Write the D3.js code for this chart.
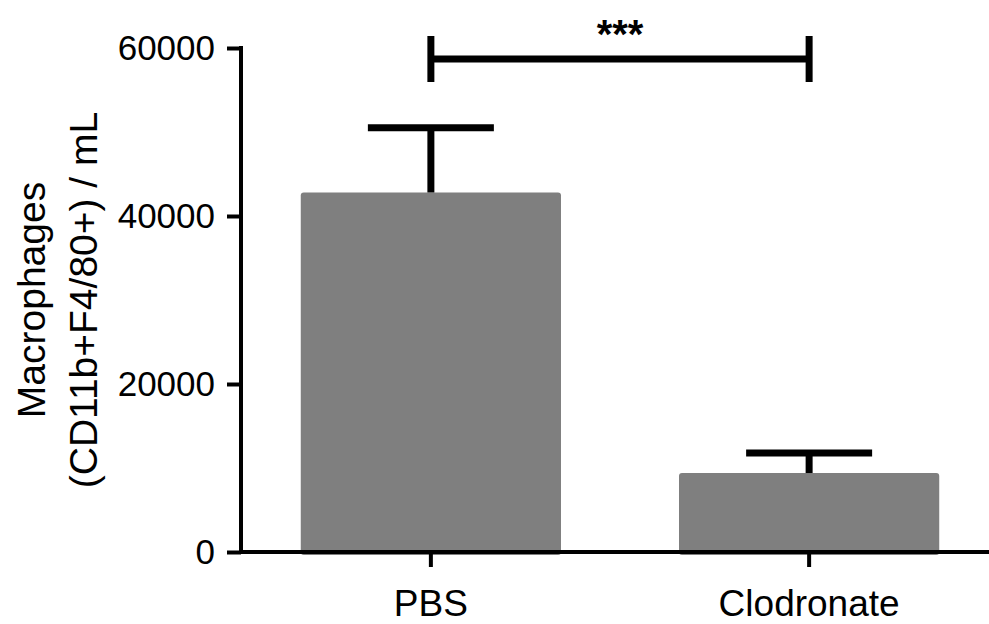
<!DOCTYPE html>
<html lang="en">
<head>
    <meta charset="utf-8">
    <script src="https://d3js.org/d3.v7.min.js"></script>
    <style>
        body { margin: 0; background: #fff; }
        text { font-family: Arial, "Liberation Sans", Helvetica, sans-serif; }
    </style>
</head>
<body>
    <svg id="chart"></svg>
    <script>
        // values
        const groups = ["PBS", "Clodronate"];
        const means = [42800, 9400];
        const sems = [7700, 2400];
        const yTicks = [0, 20000, 40000, 60000];
        const sigLabel = "***";
        const yTitle = ["Macrophages", "(CD11b+F4/80+) / mL"];

        const W = 989, H = 624;
        const svg = d3.select("#chart").attr("width", W).attr("height", H);

        const y = d3.scaleLinear().domain([0, 60000]).range([552, 48]);
        const x = d3.scaleBand()
            .domain(groups)
            .range([241, 999])
            .paddingInner(0.312)
            .paddingOuter(0.158);

        const data = groups.map((g, i) => ({ g: g, m: means[i], s: sems[i] }));

        // bars
        svg.selectAll(".bar")
            .data(data)
            .enter().append("rect")
            .attr("class", "bar")
            .attr("x", d => x(d.g))
            .attr("width", x.bandwidth())
            .attr("y", d => y(d.m))
            .attr("height", d => y(0) - y(d.m) + 3)
            .attr("rx", 3)
            .attr("fill", "#7f7f7f");

        // error bars (upper only)
        const cx = d => x(d.g) + x.bandwidth() / 2;
        const err = svg.append("g").attr("stroke", "#000").attr("stroke-width", 7);
        err.selectAll(".ev").data(data).enter().append("line")
            .attr("x1", cx).attr("x2", cx)
            .attr("y1", d => y(d.m)).attr("y2", d => y(d.m + d.s));
        err.selectAll(".ec").data(data).enter().append("line")
            .attr("x1", d => cx(d) - 63).attr("x2", d => cx(d) + 63)
            .attr("y1", d => y(d.m + d.s)).attr("y2", d => y(d.m + d.s));

        // y axis
        const yAxis = svg.append("g")
            .attr("transform", "translate(241,0)")
            .call(d3.axisLeft(y).tickValues(yTicks).tickSize(14).tickSizeOuter(0).tickPadding(12).tickFormat(d3.format("d")));
        yAxis.select(".domain").attr("stroke-width", 4).attr("d", "M0," + (y(0) + 2) + "V" + (y(60000) - 2));
        yAxis.selectAll(".tick line").attr("stroke-width", 4);
        yAxis.selectAll(".tick text").attr("font-size", 35).attr("fill", "#000")
            .style("font-family", "Arial, 'Liberation Sans', sans-serif");

        // x axis
        const xAxis = svg.append("g")
            .attr("transform", "translate(0," + y(0) + ")")
            .call(d3.axisBottom(x).tickSize(15).tickSizeOuter(0).tickPadding(23));
        xAxis.select(".domain").attr("stroke-width", 4).attr("d", "M239,0H999");
        xAxis.selectAll(".tick line").attr("stroke-width", 4);
        xAxis.selectAll(".tick text").attr("font-size", 37).attr("fill", "#000")
            .style("font-family", "Arial, 'Liberation Sans', sans-serif");

        // significance bracket
        const bx1 = cx(data[0]), bx2 = cx(data[1]), by = 59;
        const br = svg.append("g").attr("stroke", "#000").attr("stroke-width", 7);
        br.append("line").attr("x1", bx1).attr("x2", bx2).attr("y1", by).attr("y2", by);
        br.append("line").attr("x1", bx1).attr("x2", bx1).attr("y1", by - 23).attr("y2", by + 23);
        br.append("line").attr("x1", bx2).attr("x2", bx2).attr("y1", by - 23).attr("y2", by + 23);
        svg.append("text")
            .attr("x", (bx1 + bx2) / 2)
            .attr("y", 48)
            .attr("text-anchor", "middle")
            .attr("font-size", 40)
            .attr("font-weight", "bold")
            .text(sigLabel);

        // y title
        const yt = svg.append("text")
            .attr("transform", "translate(0,300) rotate(-90)")
            .attr("text-anchor", "middle")
            .attr("font-size", 39);
        yt.selectAll("tspan").data(yTitle).enter().append("tspan")
            .attr("x", 0)
            .attr("y", (d, i) => 45 + i * 52)
            .text(d => d);
    </script>
</body>
</html>
